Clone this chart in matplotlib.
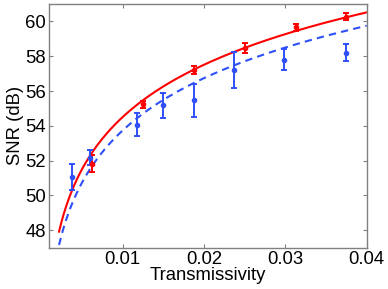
import numpy as np
import matplotlib
matplotlib.use("Agg")
import matplotlib.pyplot as plt

plt.rcParams['font.family'] = ['Liberation Sans', 'DejaVu Sans']

# Measured data (red)
red_T = [0.00624, 0.0125, 0.01876, 0.0250, 0.03127, 0.0375]
red_snr = [51.83, 55.24, 57.21, 58.49, 59.66, 60.27]
red_err = [0.50, 0.21, 0.24, 0.30, 0.22, 0.19]

# Measured data (blue)
blue_T = [0.00375, 0.00596, 0.01184, 0.01495, 0.01876, 0.02367, 0.0298, 0.0375]
blue_snr = [51.06, 52.17, 54.06, 55.17, 55.47, 57.19, 57.81, 58.19]
blue_err = [0.73, 0.43, 0.66, 0.69, 0.94, 1.03, 0.61, 0.49]

# Fit curves: SNR = offset + 10*log10(T)
red_fit_offset = 74.5
blue_fit_offset = 73.73
fit_T_range = (0.0022, 0.04)

xticks = [0.01, 0.02, 0.03, 0.04]
xticklabels = ['0.01', '0.02', '0.03', '0.04']
yticks = [48, 50, 52, 54, 56, 58, 60]

RED = '#FF0000'
BLUE = '#2F4FF8'

fig = plt.figure(figsize=(3.88, 2.89), dpi=100)
ax = fig.add_axes([0.127, 0.143, 0.818, 0.843])

T = np.linspace(fit_T_range[0], fit_T_range[1], 400)
ax.plot(T, red_fit_offset + 10 * np.log10(T), color=RED, lw=1.5)
ax.plot(T, blue_fit_offset + 10 * np.log10(T), color=BLUE, lw=1.5,
        linestyle=(0, (3.5, 2.5)))

ax.errorbar(red_T, red_snr, yerr=red_err, fmt='o', color=RED, ms=3,
            capsize=2.5, elinewidth=1.4, capthick=1.4)
ax.errorbar(blue_T, blue_snr, yerr=blue_err, fmt='o', color=BLUE, ms=3,
            capsize=2.5, elinewidth=1.4, capthick=1.4)

ax.set_xlim(0.001, 0.04)
ax.set_ylim(47, 61)
ax.set_xticks(xticks)
ax.set_xticklabels(xticklabels)
ax.set_yticks(yticks)

ax.tick_params(direction='in', top=True, right=True, length=3, width=0.8,
               color='#808080', labelsize=13.3, pad=2.5)
for s in ax.spines.values():
    s.set_color('#808080')
    s.set_linewidth(1.0)

ax.set_xlabel('Transmissivity', fontsize=13.3, labelpad=-1)
ax.set_ylabel('SNR (dB)', fontsize=13.3, labelpad=1)

fig.savefig('out.png', dpi=100)
